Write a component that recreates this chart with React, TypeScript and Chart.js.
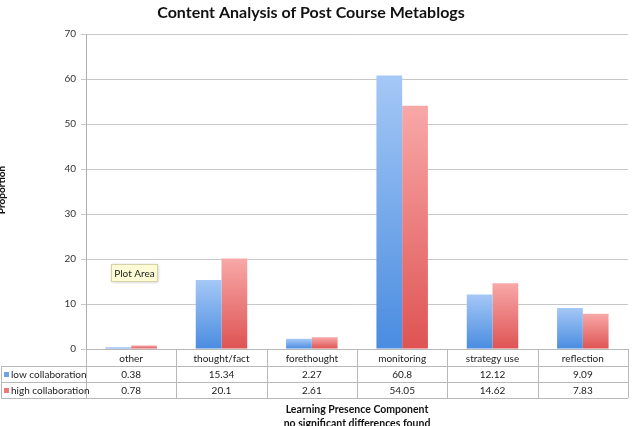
import React, { useEffect, useRef } from "react";
import { Chart, registerables } from "chart.js";

Chart.register(...registerables);

const categories = ["other", "thought/fact", "forethought", "monitoring", "strategy use", "reflection"];
const lowCollab = [0.38, 15.34, 2.27, 60.8, 12.12, 9.09];
const highCollab = [0.78, 20.1, 2.61, 54.05, 14.62, 7.83];
const seriesNames = ["low collaboration", "high collaboration"];
const chartTitle = "Content Analysis of Post Course Metablogs";
const yTitle = "Proportion";
const xTitle1 = "Learning Presence Component";
const xTitle2 = "no significant differences found";
const FONT = "Lato, 'Open Sans', sans-serif";

function gradFill(top: string, bottom: string) {
  return (ctx: any) => {
    const chart = ctx.chart;
    const y = chart.scales?.y;
    if (!y || ctx.raw === undefined) return bottom;
    const yt = y.getPixelForValue(ctx.raw);
    const yb = y.getPixelForValue(0);
    if (!isFinite(yt) || !isFinite(yb) || yt === yb) return bottom;
    const g = chart.ctx.createLinearGradient(0, yt, 0, yb);
    g.addColorStop(0, top);
    g.addColorStop(1, bottom);
    return g;
  };
}

const decorPlugin = {
  id: "decor",
  afterDraw(chart: any) {
    const ctx = chart.ctx;
    const xs = chart.scales.x;
    const ca = chart.chartArea;
    const n = categories.length;
    const colW = (ca.right - ca.left) / n;
    const rowTop = ca.bottom;
    const rows = [rowTop, rowTop + 17, rowTop + 33, rowTop + 49];
    ctx.save();
    // title
    ctx.fillStyle = "#111";
    ctx.font = `bold 16px ${FONT}`;
    ctx.textAlign = "center";
    ctx.textBaseline = "middle";
    ctx.fillText(chartTitle, 311, 13);
    // y title (partially off-canvas)
    ctx.save();
    ctx.translate(2, 190);
    ctx.rotate(-Math.PI / 2);
    ctx.font = `bold 10px ${FONT}`;
    ctx.fillText(yTitle, 0, 0);
    ctx.restore();
    // table lines
    ctx.strokeStyle = "#b8b8b8";
    ctx.lineWidth = 1;
    ctx.beginPath();
    ctx.moveTo(ca.left, rows[0] + 0.5);
    ctx.lineTo(ca.right, rows[0] + 0.5);
    for (let r = 1; r < rows.length; r++) {
      ctx.moveTo(1, rows[r] + 0.5);
      ctx.lineTo(ca.right, rows[r] + 0.5);
    }
    for (let c = 0; c <= n; c++) {
      const x = Math.round(ca.left + c * colW) + 0.5;
      ctx.moveTo(x, rows[0]);
      ctx.lineTo(x, rows[3]);
    }
    ctx.moveTo(1.5, rows[1]);
    ctx.lineTo(1.5, rows[3]);
    ctx.stroke();
    // texts
    ctx.fillStyle = "#222";
    ctx.font = `10px ${FONT}`;
    ctx.textAlign = "center";
    const data = [lowCollab, highCollab];
    for (let i = 0; i < n; i++) {
      const cx = xs.getPixelForValue(i);
      ctx.fillText(categories[i], cx, (rows[0] + rows[1]) / 2 + 1);
      ctx.fillText(String(data[0][i]), cx, (rows[1] + rows[2]) / 2 + 1);
      ctx.fillText(String(data[1][i]), cx, (rows[2] + rows[3]) / 2 + 1);
    }
    // legend keys
    const keyColors = ["#6fa4ea", "#ec7878"];
    ctx.textAlign = "left";
    for (let s = 0; s < 2; s++) {
      const cy = (rows[s + 1] + rows[s + 2]) / 2 + 1;
      ctx.fillStyle = keyColors[s];
      ctx.fillRect(4, cy - 3, 5, 5);
      ctx.fillStyle = "#222";
      ctx.fillText(seriesNames[s], 11, cy);
    }
    // x title
    ctx.font = `bold 10.5px ${FONT}`;
    ctx.textAlign = "center";
    ctx.fillStyle = "#111";
    const xc = (ca.left + ca.right) / 2;
    ctx.fillText(xTitle1, xc, 410);
    ctx.fillText(xTitle2, xc, 424);
    // Plot Area tooltip
    ctx.save();
    ctx.shadowColor = "rgba(0,0,0,0.25)";
    ctx.shadowBlur = 3;
    ctx.shadowOffsetX = 1;
    ctx.shadowOffsetY = 1;
    ctx.fillStyle = "#fdfbd6";
    ctx.fillRect(111, 264, 46, 17);
    ctx.restore();
    ctx.strokeStyle = "#d6d2a8";
    ctx.strokeRect(111.5, 264.5, 46, 17);
    ctx.fillStyle = "#222";
    ctx.font = `10px ${FONT}`;
    ctx.fillText("Plot Area", 134.5, 273.5);
    ctx.restore();
  },
};

export default function App() {
  const ref = useRef<HTMLCanvasElement>(null);
  useEffect(() => {
    document.body.style.margin = "0";
    const canvas = ref.current!;
    const chart = new Chart(canvas, {
      type: "bar",
      data: {
        labels: categories,
        datasets: [
          {
            label: seriesNames[0],
            data: lowCollab,
            backgroundColor: gradFill("#a5c8f6", "#4a8ce0"),
            borderWidth: 0,
          },
          {
            label: seriesNames[1],
            data: highCollab,
            backgroundColor: gradFill("#f8a8a8", "#df5353"),
            borderWidth: 0,
          },
        ],
      },
      options: {
        animation: false,
        responsive: false,
        maintainAspectRatio: false,
        layout: { padding: { left: 0, right: 5, top: 34, bottom: 77 } },
        plugins: { legend: { display: false }, tooltip: { enabled: false }, title: { display: false } },
        datasets: { bar: { barPercentage: 1, categoryPercentage: 0.57 } },
        scales: {
          x: {
            display: false,
          },
          y: {
            min: 0,
            max: 70,
            ticks: { stepSize: 10, color: "#333", font: { size: 10, family: FONT }, padding: 5 },
            grid: { color: "#c8c8c8", tickLength: 5, lineWidth: 1 },
            border: { color: "#b0b0b0" },
            afterFit: (scale: any) => {
              scale.width = 86;
            },
          },
        },
      },
      plugins: [decorPlugin],
    });
    return () => chart.destroy();
  }, []);
  return (
    <div style={{ position: "absolute", left: 0, top: 0, width: 633, height: 426, background: "#fff" }}>
      <canvas ref={ref} width={633} height={426} style={{ width: 633, height: 426 }} />
    </div>
  );
}
